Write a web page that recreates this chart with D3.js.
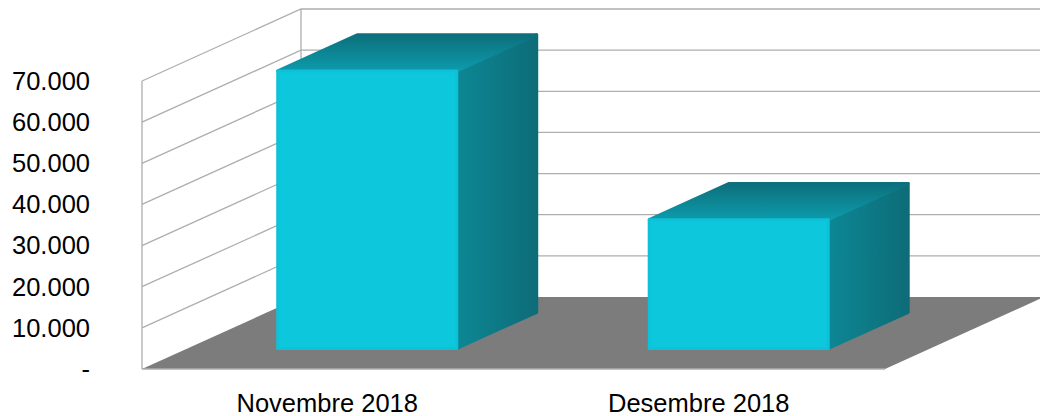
<!DOCTYPE html>
<html><head><meta charset="utf-8">
<style>html,body{margin:0;padding:0;background:#fff}svg{display:block}text{font-family:"Liberation Sans",Arial,sans-serif;fill:#000}</style>
<script src="https://cdn.jsdelivr.net/npm/d3@7"></script></head><body>
<script>
const categories = ["Novembre 2018", "Desembre 2018"];
const values = [68200, 32050];
const tickValues = [0, 10000, 20000, 30000, 40000, 50000, 60000, 70000];
const tickLabels = ["-", "10.000", "20.000", "30.000", "40.000", "50.000", "60.000", "70.000"];

const W = 1040, H = 416;
const svg = d3.select("body").append("svg").attr("width", W).attr("height", H);
const y = d3.scaleLinear().domain([0, 70000]).range([369, 81]);
const x = d3.scaleBand().domain(categories).range([142, 885]);
const depthX = d3.scaleLinear().domain([0, 1]).range([0, 159]);
const depthY = d3.scaleLinear().domain([0, 1]).range([0, -72]);
const pt = (px, val, d) => [px + depthX(d), y(val) + depthY(d)];
const path = pts => "M" + pts.map(p => p.join(",")).join("L") + "Z";

const defs = svg.append("defs");
function grad(id, x2, y2, stops) {
  const g = defs.append("linearGradient").attr("id", id).attr("x1", 0).attr("y1", 0).attr("x2", x2).attr("y2", y2);
  stops.forEach(s => g.append("stop").attr("offset", s[0]).attr("stop-color", s[1]));
}
grad("top", 0, 1, [[0, "#0a6f7b"], [1, "#0d9bac"]]);
grad("side", 1, 0, [[0, "#0b8795"], [1, "#0a6c77"]]);
defs.append("filter").attr("id", "soft").attr("x", "-5%").attr("y", "-5%").attr("width", "110%").attr("height", "110%")
  .append("feGaussianBlur").attr("stdDeviation", 0.6);

const gridColor = "#aeaeae";
const [xL, xR] = x.range();
const backL = xL + depthX(1), backR = W;

const grid = svg.append("g").attr("fill", "none").attr("stroke", gridColor).attr("stroke-width", 1.3);
tickValues.slice(1).forEach(v => {
  grid.append("path").attr("d", d3.line()([pt(xL, v, 0), pt(xL, v, 1), [backR, pt(xL, v, 1)[1]]]));
});
grid.append("line").attr("x1", xL).attr("x2", xL).attr("y1", y(0)).attr("y2", y(70000));
grid.append("line").attr("x1", backL).attr("x2", backL).attr("y1", y(0) + depthY(1)).attr("y2", y(70000) + depthY(1));

svg.append("path").attr("fill", "#7c7c7c")
  .attr("d", path([pt(xL, 0, 0), pt(xL, 0, 1), pt(xR, 0, 1), pt(xR, 0, 0)]));
svg.append("line").attr("x1", xL).attr("x2", xR).attr("y1", y(0)).attr("y2", y(0)).attr("stroke", gridColor).attr("stroke-width", 1.3);

const frontD = 0.264, backD = 0.767, barW = x.bandwidth() * 0.49;
const shiftX = -2.5, inset = 1.5;
categories.forEach((c, i) => {
  const a = x(c) + (x.bandwidth() - barW) / 2 + shiftX + inset, b = a + barW - 2 * inset;
  const v0 = y.invert(y(0) - inset), v = y.invert(y(values[i]) + inset);
  const g = svg.append("g").attr("filter", "url(#soft)").attr("stroke-linejoin", "round").attr("stroke-width", 3);
  g.append("path").attr("fill", "url(#side)").attr("stroke", "url(#side)")
    .attr("d", path([pt(b, v0, frontD), pt(b, v0, backD), pt(b, v, backD), pt(b, v, frontD)]));
  g.append("path").attr("fill", "url(#top)").attr("stroke", "url(#top)")
    .attr("d", path([pt(a, v, frontD), pt(a, v, backD), pt(b, v, backD), pt(b, v, frontD)]));
  g.append("path").attr("fill", "#11c7dd").attr("stroke", "#11c2d8")
    .attr("d", path([pt(a, v0, frontD), pt(a, v, frontD), pt(b, v, frontD), pt(b, v0, frontD)]));
});

const labelSize = 25.5;
const yLabels = svg.append("g").attr("font-size", labelSize).attr("text-anchor", "end");
tickValues.forEach((v, i) => {
  yLabels.append("text").attr("x", 90).attr("y", y(v)).attr("dy", "0.35em").text(tickLabels[i]);
});
const xLabels = svg.append("g").attr("font-size", labelSize).attr("text-anchor", "middle");
categories.forEach(c => {
  xLabels.append("text").attr("x", x(c) + x.bandwidth() / 2 - 0.5).attr("y", 412).text(c);
});
</script></body></html>
